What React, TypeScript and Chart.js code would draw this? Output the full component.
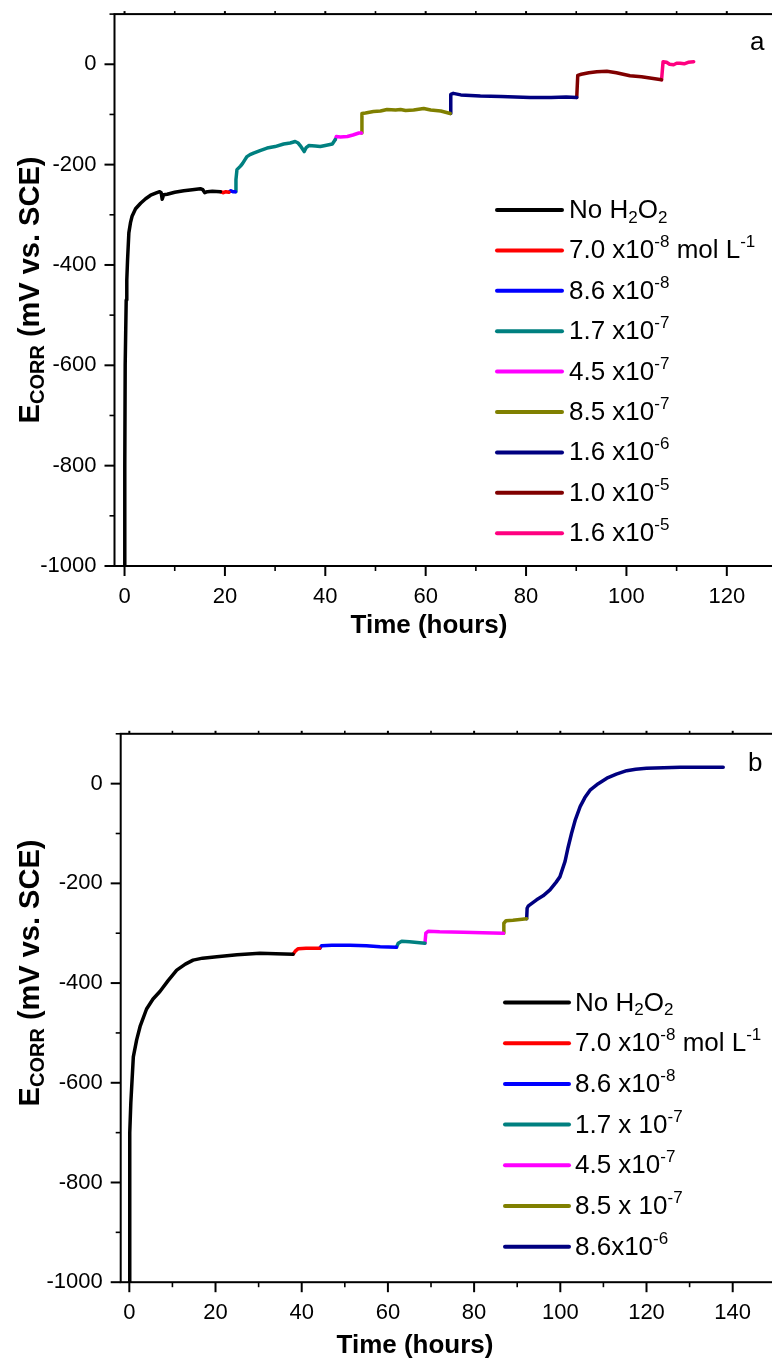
import React, { useEffect, useRef } from "react";
import { Chart, registerables } from "chart.js";
Chart.register(...registerables);

const FONT = "'Liberation Sans', Arial, Helvetica, sans-serif";

// ---------- Panel a ----------
const A_NO_H2O2: [number, number][] = [
  [0, -1000], [0.05, -800], [0.13, -600], [0.33, -470], [0.45, -430], [0.6, -390],
  [0.86, -336], [1.2, -315], [1.5, -303], [2.2, -288], [3.2, -277], [4.2, -268],
  [5.2, -261], [6.2, -257], [7.0, -254], [7.3, -256], [7.5, -269], [7.8, -260],
  [8.5, -259], [10, -255], [11.8, -252], [13.5, -250], [15.1, -248], [15.6, -250],
  [16.0, -256], [16.5, -254], [17.5, -253], [19.1, -254],
];
const A_7_0E8: [number, number][] = [[19.1, -254], [19.6, -256], [20.2, -254], [20.8, -255]];
const A_8_6E8: [number, number][] = [[20.8, -255], [21.2, -252], [21.6, -254], [22.1, -254]];
const A_1_7E7: [number, number][] = [
  [22.1, -254], [22.2, -230], [22.4, -210], [23.1, -203], [23.5, -198], [24.0, -190],
  [24.4, -184], [25.0, -180], [25.7, -177], [27, -172], [28.4, -167], [30, -164],
  [31.7, -159], [33, -157], [34.0, -154], [34.6, -157], [35.0, -162], [35.8, -174],
  [36.2, -166], [36.7, -162], [38, -163], [39, -164], [40, -162], [41.4, -159], [42, -150],
];
const A_4_5E7: [number, number][] = [
  [42, -150], [42.2, -144], [43, -145], [44.4, -144], [45.5, -141], [46.7, -137], [47.2, -137],
];
const A_8_5E7: [number, number][] = [
  [47.2, -137], [47.3, -98], [48, -97], [49.6, -94], [51, -93], [52.3, -90], [54, -91],
  [55, -90], [56, -92], [57.6, -91], [59.6, -88], [61, -91], [63, -93], [64.9, -98],
];
const A_1_6E6: [number, number][] = [
  [64.9, -98], [65.0, -60], [65.5, -58], [67, -61], [70.9, -63], [75, -64], [80.8, -66],
  [85, -66], [88, -65], [90.1, -66],
];
const A_1_0E5: [number, number][] = [
  [90.1, -66], [90.3, -22], [91, -20], [92.5, -17], [94.1, -15], [96.1, -14], [98, -17],
  [100.7, -23], [103, -25], [105, -28], [107, -31],
];
const A_1_6E5: [number, number][] = [
  [107, -31], [107.3, 5], [108, 4], [108.6, 0], [109.4, -1], [110, 2], [110.7, 2],
  [111.5, 1], [112.3, 4], [113.4, 5],
];
const A_SERIES = [A_NO_H2O2, A_7_0E8, A_8_6E8, A_1_7E7, A_4_5E7, A_8_5E7, A_1_6E6, A_1_0E5, A_1_6E5];
const A_LABELS = [
  "No H_{2}O_{2}", "7.0 x10^{-8} mol L^{-1}", "8.6 x10^{-8}", "1.7 x10^{-7}", "4.5 x10^{-7}",
  "8.5 x10^{-7}", "1.6 x10^{-6}", "1.0 x10^{-5}", "1.6 x10^{-5}",
];
const A_COLORS = ["#000000", "#FF0000", "#0000FF", "#008080", "#FF00FF", "#808000", "#000080", "#800000", "#FF0080"];

// ---------- Panel b ----------
const B_NO_H2O2: [number, number][] = [
  [0, -1000], [0.05, -850], [0.15, -700], [0.35, -640], [0.6, -600], [0.93, -548],
  [1.7, -514], [2.5, -487], [4.0, -452], [5.5, -432], [7.1, -417], [9, -395], [11, -374],
  [13, -362], [14.8, -354], [17, -350], [20.3, -347], [25, -343], [30.3, -340], [34, -341], [38, -342],
];
const B_7_0E8: [number, number][] = [[38, -342], [38.5, -336], [39.2, -331], [41, -330], [44.2, -330]];
const B_8_6E8: [number, number][] = [
  [44.2, -330], [44.6, -325], [47, -324], [51.2, -324], [55, -325], [58.2, -327], [62, -328],
];
const B_1_7E7: [number, number][] = [[62, -328], [62.4, -320], [63.2, -316], [65, -317], [68.6, -320]];
const B_4_5E7: [number, number][] = [
  [68.6, -320], [68.8, -300], [69.4, -296], [72, -297], [77.5, -298], [82, -299], [86.8, -300],
];
const B_8_5E7: [number, number][] = [[86.8, -300], [86.9, -280], [87.4, -275], [89, -274], [92.2, -271]];
const B_8_6E6: [number, number][] = [
  [92.2, -271], [92.3, -250], [92.6, -245], [94.5, -233], [96, -225], [97.6, -213], [99, -198],
  [99.9, -187], [101.1, -156], [101.8, -128], [102.6, -100], [103.5, -72], [104.6, -46],
  [105.7, -28], [106.9, -13], [108.8, 0], [110.8, 11], [113, 19], [115.4, 26], [117.5, 29],
  [120, 31], [124, 32], [127.8, 33], [133, 33], [137.8, 33],
];
const B_SERIES = [B_NO_H2O2, B_7_0E8, B_8_6E8, B_1_7E7, B_4_5E7, B_8_5E7, B_8_6E6];
const B_LABELS = [
  "No H_{2}O_{2}", "7.0 x10^{-8} mol L^{-1}", "8.6 x10^{-8}", "1.7 x 10^{-7}", "4.5 x10^{-7}",
  "8.5 x 10^{-7}", "8.6x10^{-6}",
];
const B_COLORS = ["#000000", "#FF0000", "#0000FF", "#008080", "#FF00FF", "#808000", "#000080"];

const X_TITLE = "Time (hours)";
const Y_TITLE = "E_{CORR} (mV vs. SCE)";
const Y_MIN = -1000;
const Y_MAX = 100;

type Seg = { t: string; k: "n" | "sub" | "sup" };
function parseRich(s: string): Seg[] {
  const out: Seg[] = [];
  const re = /([_^])\{([^}]*)\}/g;
  let last = 0;
  let m: RegExpExecArray | null;
  while ((m = re.exec(s))) {
    if (m.index > last) out.push({ t: s.slice(last, m.index), k: "n" });
    out.push({ t: m[2], k: m[1] === "_" ? "sub" : "sup" });
    last = re.lastIndex;
  }
  if (last < s.length) out.push({ t: s.slice(last), k: "n" });
  return out;
}

function drawRich(ctx: CanvasRenderingContext2D, s: string, x: number, y: number, size: number, weight: string, align: "left" | "center", subScale = 0.65) {
  const segs = parseRich(s);
  const small = Math.round(size * subScale);
  const fontFor = (k: string) => `${weight} ${k === "n" ? size : small}px ${FONT}`;
  let total = 0;
  const widths = segs.map((sg) => {
    ctx.font = fontFor(sg.k);
    const w = ctx.measureText(sg.t).width;
    total += w;
    return w;
  });
  let cx = align === "center" ? x - total / 2 : x;
  ctx.textBaseline = "alphabetic";
  ctx.textAlign = "left";
  segs.forEach((sg, i) => {
    ctx.font = fontFor(sg.k);
    const dy = sg.k === "sub" ? size * 0.18 : sg.k === "sup" ? -size * 0.42 : 0;
    ctx.fillText(sg.t, cx, y + dy);
    cx += widths[i];
  });
}

type Cfg = {
  series: [number, number][][];
  labels: string[];
  colors: string[];
  xMax: number;
  padTop: number;
  padRight: number;
  yWidth: number;
  xHeight: number;
  legend: { x0: number; x1: number; tx: number; y0: number; step: number };
  letter: { t: string; x: number; y: number };
  xTitle: { cx: number; y: number };
  yTitle: { x: number; cy: number };
};

function makeChart(canvas: HTMLCanvasElement, cfg: Cfg) {
  const decor = {
    id: "decor",
    afterDatasetsDraw(chart: any) {
      const ctx: CanvasRenderingContext2D = chart.ctx;
      const { left, right, top, bottom } = chart.chartArea;
      const xs = chart.scales.x;
      const ys = chart.scales.y;
      ctx.save();
      ctx.strokeStyle = "#000";
      const seg = (a: number, b: number, c: number, d: number) => {
        ctx.beginPath();
        ctx.moveTo(a, b);
        ctx.lineTo(c, d);
        ctx.stroke();
      };
      for (let v = Math.ceil(xs.min / 10) * 10; v <= xs.max; v += 10) {
        const p = xs.getPixelForValue(v);
        const major = v % 20 === 0;
        ctx.lineWidth = major ? 2 : 1.6;
        seg(p, bottom, p, bottom + (major ? 10 : 5));
        seg(p, top, p, top - 3);
      }
      for (let v = Math.ceil(ys.min / 100) * 100; v <= ys.max; v += 100) {
        const p = ys.getPixelForValue(v);
        const major = v % 200 === 0;
        ctx.lineWidth = major ? 2 : 1.6;
        seg(left, p, left - (major ? 10 : 5), p);
      }
      ctx.lineWidth = 2;
      ctx.strokeRect(left, top, right - left, bottom - top);

      // legend
      const L = cfg.legend;
      cfg.labels.forEach((lab, i) => {
        const yy = L.y0 + i * L.step;
        ctx.strokeStyle = cfg.colors[i];
        ctx.lineWidth = 4;
        ctx.lineCap = "round";
        seg(L.x0, yy, L.x1, yy);
        ctx.fillStyle = "#000";
        drawRich(ctx, lab, L.tx, yy + 8, 26, "normal", "left", 0.65);
      });

      ctx.fillStyle = "#000";
      ctx.font = `normal 26px ${FONT}`;
      ctx.textAlign = "left";
      ctx.textBaseline = "alphabetic";
      ctx.fillText(cfg.letter.t, cfg.letter.x, cfg.letter.y);

      drawRich(ctx, X_TITLE, cfg.xTitle.cx, cfg.xTitle.y, 26, "bold", "center");

      ctx.save();
      ctx.translate(cfg.yTitle.x, cfg.yTitle.cy);
      ctx.rotate(-Math.PI / 2);
      drawRich(ctx, Y_TITLE, 0, 0, 29, "bold", "center", 0.68);
      ctx.restore();

      ctx.restore();
    },
  };

  const tickFont = { family: FONT, size: 22 };
  return new Chart(canvas, {
    type: "line",
    data: {
      datasets: cfg.series.map((s, i) => ({
        label: cfg.labels[i],
        data: s.map(([x, y]) => ({ x, y })),
        borderColor: cfg.colors[i],
        backgroundColor: cfg.colors[i],
        borderWidth: 3.5,
        pointRadius: 0,
        fill: false,
        tension: 0,
        borderJoinStyle: "round",
        borderCapStyle: "round",
      })),
    },
    options: {
      responsive: false,
      animation: false,
      events: [],
      layout: { padding: { left: 0, right: cfg.padRight, top: cfg.padTop, bottom: 0 } },
      plugins: { legend: { display: false }, tooltip: { enabled: false }, title: { display: false } },
      scales: {
        x: {
          type: "linear",
          position: "bottom",
          min: -2,
          max: cfg.xMax,
          grid: { display: false, drawTicks: true, tickLength: 18, tickColor: "rgba(0,0,0,0)" },
          border: { display: false },
          ticks: {
            stepSize: 20,
            autoSkip: false,
            maxRotation: 0,
            includeBounds: false,
            padding: 0,
            color: "#000",
            font: tickFont,
            callback: (v: any) => String(v),
          },
          afterFit: (s: any) => {
            s.height = cfg.xHeight;
          },
        },
        y: {
          type: "linear",
          position: "left",
          min: Y_MIN,
          max: Y_MAX,
          grid: { display: false, drawTicks: true, tickLength: 18, tickColor: "rgba(0,0,0,0)" },
          border: { display: false },
          ticks: {
            stepSize: 200,
            autoSkip: false,
            includeBounds: false,
            padding: 0,
            color: "#000",
            font: tickFont,
            callback: (v: any) => String(v),
          },
          afterFit: (s: any) => {
            s.width = cfg.yWidth;
          },
        },
      },
    } as any,
    plugins: [decor],
  } as any);
}

export default function App() {
  const refA = useRef<HTMLCanvasElement>(null);
  const refB = useRef<HTMLCanvasElement>(null);

  useEffect(() => {
    const a = makeChart(refA.current!, {
      series: A_SERIES,
      labels: A_LABELS,
      colors: A_COLORS,
      xMax: 130,
      padTop: 14.1,
      padRight: 2,
      yWidth: 114.5,
      xHeight: 94,
      legend: { x0: 497, x1: 562, tx: 569, y0: 210, step: 40.4 },
      letter: { t: "a", x: 750, y: 50 },
      xTitle: { cx: 429, y: 633 },
      yTitle: { x: 39, cy: 290 },
    });
    const b = makeChart(refB.current!, {
      series: B_SERIES,
      labels: B_LABELS,
      colors: B_COLORS,
      xMax: 150,
      padTop: 53.8,
      padRight: 2.2,
      yWidth: 120.7,
      xHeight: 78.8,
      legend: { x0: 505, x1: 569, tx: 575, y0: 322.5, step: 40.7 },
      letter: { t: "b", x: 748, y: 90.7 },
      xTitle: { cx: 415, y: 673.3 },
      yTitle: { x: 39, cy: 293 },
    });
    return () => {
      a.destroy();
      b.destroy();
    };
  }, []);

  return (
    <div style={{ position: "fixed", left: 0, top: 0, width: 772, height: 1361, overflow: "hidden", background: "#fff" }}>
      <div style={{ position: "absolute", left: 0, top: 0 }}>
        <canvas ref={refA} width={779} height={660} style={{ display: "block", width: 779, height: 660 }} />
      </div>
      <div style={{ position: "absolute", left: 0, top: 680 }}>
        <canvas ref={refB} width={778} height={681} style={{ display: "block", width: 778, height: 681 }} />
      </div>
    </div>
  );
}
